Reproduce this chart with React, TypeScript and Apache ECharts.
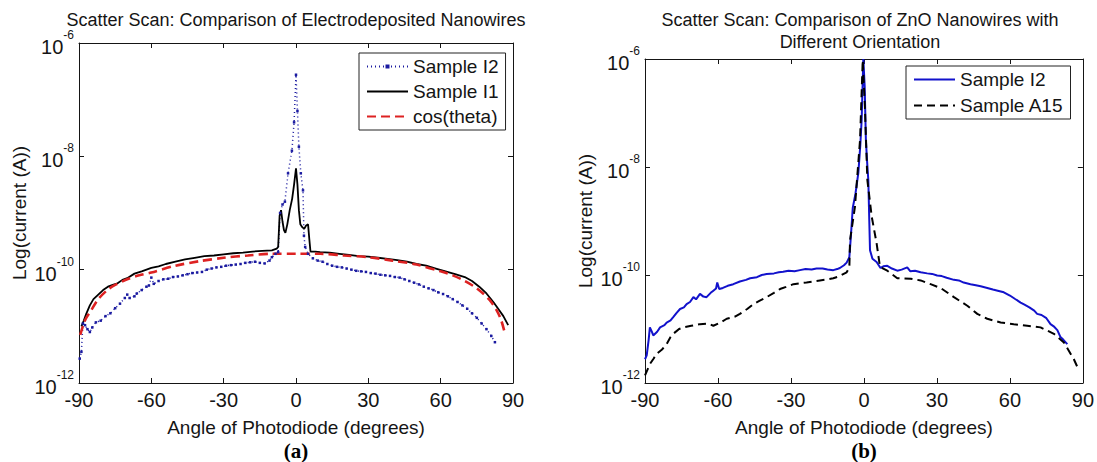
import React, { useEffect, useRef } from "react";
import * as echarts from "echarts";

const FONT = "'Liberation Sans', Arial, Helvetica, sans-serif";

// ---------- axis ticks ----------
const angleMin = -90;
const angleMax = 90;
const angleStep = 30;
const logMin = -12;
const logMax = -6;
const logStep = 2;

// ---------- titles / labels ----------
const titleA = "Scatter Scan: Comparison of Electrodeposited Nanowires";
const titleB1 = "Scatter Scan: Comparison of ZnO Nanowires with";
const titleB2 = "Different Orientation";
const xName = "Angle of Photodiode (degrees)";
const yName = "Log(current (A))";

// ---------- panel (a): Sample I2 (log10 current) ----------
const aI2Angles = [
  -89.7, -89, -88.4, -87.5, -86.5, -85.5, -84.5, -83, -81, -79, -77, -75, -73, -71, -70, -69, -67, -66,
  -64, -62, -61, -60, -59, -57, -55, -53, -51, -49, -47, -45, -43, -41, -39, -37, -35, -33, -31, -29,
  -27, -25, -23, -21, -19, -17, -15, -13, -11, -10, -8.5, -7.4, -6.6, -5.6, -4.6, -3.3, -1.7, -0.8, 0,
  0.6, 1.2, 2, 2.9, 3.3, 3.8, 5, 7, 9, 11, 13, 15, 17, 19, 21, 23, 25, 27, 29, 31, 33, 35, 37, 39, 41,
  43, 45, 47, 49, 51, 53, 55, 57, 59, 61, 63, 65, 67, 69, 71, 73, 75, 77, 79, 81, 82.5,
];
const aI2Log = [
  -11.57, -11.45, -10.95, -10.98, -11.05, -11.1, -11.02, -10.93, -10.9, -10.82, -10.77, -10.68, -10.6,
  -10.5, -10.44, -10.5, -10.47, -10.42, -10.36, -10.3, -10.28, -10.14, -10.25, -10.2, -10.17, -10.16,
  -10.13, -10.12, -10.1, -10.08, -10.06, -10.05, -10.04, -10.0, -9.98, -9.96, -9.95, -9.93, -9.92,
  -9.91, -9.9, -9.88, -9.87, -9.86, -9.88, -9.89, -9.84, -9.78, -9.72, -9.69, -9.0, -8.85, -8.8, -8.3,
  -7.9, -7.4, -6.56, -7.2, -7.83, -8.3, -8.6, -9.4, -9.6, -9.72, -9.8, -9.84, -9.86, -9.9, -9.93,
  -9.95, -9.96, -9.98, -10.0, -10.02, -10.03, -10.04, -10.06, -10.07, -10.09, -10.1, -10.11, -10.13,
  -10.14, -10.17, -10.2, -10.23, -10.26, -10.3, -10.33, -10.36, -10.4, -10.43, -10.47, -10.52, -10.57,
  -10.63, -10.69, -10.77, -10.85, -10.95, -11.05, -11.17, -11.28,
];

// ---------- panel (a): Sample I1 ----------
const aI1Angles = [
  -89, -88, -87, -85.5, -84, -82, -80, -78, -76, -74, -72, -70, -67, -64, -60, -57, -54, -50, -46, -42,
  -38, -34, -30, -26, -22, -18, -14, -10, -8, -7.4, -6.8, -6.2, -5.6, -5, -4.4, -3.6, -2.6, -1.6, -0.8,
  0, 0.6, 1.2, 1.8, 2.6, 3.4, 4.2, 5, 5.5, 6, 8, 10, 14, 18, 22, 26, 30, 34, 38, 42, 46, 50, 54, 58, 62,
  66, 70, 73, 76, 79, 82, 84, 86, 88,
];
const aI1Log = [
  -11.0, -10.9, -10.78, -10.63, -10.52, -10.44, -10.36, -10.3, -10.27, -10.24, -10.18, -10.15, -10.07,
  -10.03, -9.97, -9.94, -9.9, -9.86, -9.82, -9.79, -9.76, -9.75, -9.73, -9.71, -9.7, -9.68, -9.67,
  -9.66, -9.63, -9.6, -9.05, -8.95, -9.15, -9.3, -9.35, -9.2, -8.95, -8.75, -8.5, -8.21, -8.5, -8.95,
  -9.2, -9.25, -9.28, -9.22, -9.2, -9.45, -9.68, -9.68, -9.69, -9.7, -9.72, -9.74, -9.76, -9.77, -9.79,
  -9.81, -9.83, -9.86, -9.9, -9.93, -9.98, -10.03, -10.08, -10.13, -10.2, -10.3, -10.42, -10.58,
  -10.7, -10.82, -10.98,
];

// ---------- panel (a): cos(theta) ----------
const aCosAngles = [
  -89.5, -88, -87, -85, -82, -78, -75, -70, -65, -60, -50, -40, -30, -20, -10, 0, 10, 20, 30, 40, 50, 60,
  65, 70, 75, 80, 83, 85, 86.5,
];
const aCosLog = [
  -11.15, -10.95, -10.85, -10.72, -10.52, -10.35, -10.27, -10.17, -10.1, -10.05, -9.93, -9.85, -9.79,
  -9.75, -9.72, -9.72, -9.72, -9.75, -9.78, -9.84, -9.91, -10.03, -10.1, -10.2, -10.33, -10.52, -10.7,
  -10.88, -11.1,
];

// ---------- panel (b): Sample I2 ----------
const bI2Angles = [
  -90, -89.3, -88.5, -88, -87.2, -86.6, -85, -83.8, -82, -81.1, -79.5, -78.4, -77, -75.6, -74, -72.9,
  -71.5, -70.1, -69, -67.4, -66, -64.7, -63, -61.9, -60.8, -60.3, -59.5, -58, -56, -53.7, -51, -48.5,
  -46.8, -44, -42, -40, -37, -35, -33.2, -31, -28.5, -26.3, -24, -21.5, -19.5, -17, -15, -12.6, -11,
  -9.9, -8.2, -7.1, -6, -5.4, -4.6, -3.5, -2.3, -1.5, -0.94, -0.25, 0.3, 0.8, 1.3, 1.8, 2.2, 2.5, 3.5,
  5.2, 6.8, 8, 9.6, 11.5, 13.7, 15.5, 17.8, 19, 21, 23.3, 26, 28, 30.1, 32, 34, 37, 39, 41, 43.8, 46,
  48, 50.7, 53, 55, 57.5, 60, 62, 64.4, 66, 68, 70, 71.2, 73, 75, 76.7, 78, 79.5, 80.8, 82, 83.6,
];
const bI2Log = [
  -11.56, -11.49, -11.2, -10.97, -11.05, -11.12, -11.05, -10.97, -10.93, -10.88, -10.84, -10.78, -10.7,
  -10.63, -10.6, -10.54, -10.5, -10.41, -10.45, -10.35, -10.4, -10.41, -10.33, -10.29, -10.25, -10.14,
  -10.26, -10.24, -10.2, -10.17, -10.12, -10.09, -10.06, -10.04, -10.0, -9.98, -9.97, -9.95, -9.94,
  -9.92, -9.93, -9.91, -9.89, -9.9, -9.88, -9.88, -9.9, -9.91, -9.89, -9.87, -9.82, -9.77, -9.67, -9.3,
  -8.76, -8.5, -8.11, -7.6, -7.13, -6.0, -6.5, -7.5, -7.9, -8.24, -9.0, -9.54, -9.7, -9.76, -9.87,
  -9.84, -9.83, -9.88, -9.92, -9.9, -9.86, -9.93, -9.92, -9.95, -9.97, -9.98, -10.01, -10.02, -10.05,
  -10.09, -10.1, -10.14, -10.17, -10.19, -10.21, -10.24, -10.27, -10.29, -10.32, -10.38, -10.44,
  -10.51, -10.55, -10.6, -10.66, -10.72, -10.74, -10.8, -10.91, -10.95, -11.02, -11.15, -11.2, -11.28,
];

// ---------- panel (b): Sample A15 ----------
const bA15Angles = [
  -90, -88, -86.5, -85.2, -83, -81.1, -79.5, -78.4, -76, -74.2, -71, -67.4, -64, -61.9, -59, -56.4, -53,
  -51, -48, -45.5, -43, -40, -37, -34.5, -32, -29, -26, -23.6, -21, -18.1, -15, -12.6, -10, -7.1, -6,
  -5.7, -3.7, -1.6, -0.5, 0.4, 1.4, 3.2, 5.2, 6.6, 9.6, 13.7, 19.2, 23.3, 27.4, 31.5, 37, 42.5, 46.6,
  50.7, 56.2, 61.6, 67.1, 72.6, 78.1, 82.2, 86.3, 88.4,
];
const bA15Log = [
  -11.86, -11.65, -11.55, -11.46, -11.38, -11.28, -11.15, -11.09, -11.0, -10.97, -10.94, -10.91, -10.9,
  -10.94, -10.88, -10.81, -10.77, -10.72, -10.63, -10.54, -10.48, -10.41, -10.33, -10.26, -10.22,
  -10.17, -10.15, -10.14, -10.12, -10.1, -10.08, -10.06, -10.02, -9.95, -9.86, -9.35, -8.74, -7.5,
  -6.02, -6.89, -8.24, -8.92, -9.41, -9.85, -9.92, -10.06, -10.07, -10.1, -10.17, -10.24, -10.41,
  -10.57, -10.72, -10.81, -10.88, -10.91, -10.94, -10.97, -11.09, -11.25, -11.56, -11.77,
];

const zip = (xs: number[], ys: number[]) => xs.map((x, i) => [x, ys[i]]);

const TXT = "#151515";
const BLUE_A = "#1a1aa0";
const BLUE_B = "#1212cc";
const RED = "#dd2222";

function xAxes(gridIndex: number) {
  const base = {
    gridIndex,
    type: "value" as const,
    min: angleMin,
    max: angleMax,
    interval: angleStep,
    splitLine: { show: false },
    axisLine: { show: true, onZero: false, lineStyle: { color: TXT, width: 1 } },
    axisTick: { show: true, inside: true, length: 5, lineStyle: { color: TXT } },
  };
  return [
    {
      ...base,
      position: "bottom",
      axisLabel: { show: true, fontSize: 20, fontFamily: FONT, color: TXT, margin: 7, showMinLabel: true, showMaxLabel: true },
      name: xName,
      nameLocation: "middle",
      nameGap: 35,
      nameTextStyle: { fontSize: 19, fontFamily: FONT, color: TXT },
    },
    { ...base, position: "top", axisLabel: { show: false } },
  ];
}

function yAxes(gridIndex: number) {
  const base = {
    gridIndex,
    type: "value" as const,
    min: logMin,
    max: logMax,
    interval: logStep,
    splitLine: { show: false },
    axisLine: { show: true, onZero: false, lineStyle: { color: TXT, width: 1 } },
    axisTick: { show: true, inside: true, length: 5, lineStyle: { color: TXT } },
  };
  return [
    {
      ...base,
      position: "left",
      axisLabel: {
        show: true,
        margin: 5,
        formatter: (v: number) => `{b|10}{s|${v}}`,
        rich: {
          b: { fontSize: 20, fontFamily: FONT, color: TXT, lineHeight: 28, verticalAlign: "bottom" },
          s: { fontSize: 12, fontFamily: FONT, color: TXT, lineHeight: 12, verticalAlign: "top" },
        },
      },
      name: yName,
      nameLocation: "middle",
      nameGap: 50,
      nameTextStyle: { fontSize: 19, fontFamily: FONT, color: TXT },
    },
    { ...base, position: "right", axisLabel: { show: false } },
  ];
}

export default function App() {
  const ref = useRef<HTMLDivElement>(null);
  useEffect(() => {
    if (!ref.current) return;
    const chart = echarts.init(ref.current, undefined, { renderer: "svg" });
    const legendBase = {
      orient: "vertical" as const,
      selectedMode: false,
      backgroundColor: "#ffffff",
      borderColor: "#222",
      borderWidth: 1,
      borderRadius: 0,
      padding: [3, 7, 3, 7],
      itemWidth: 41,
      itemHeight: 5,
      itemGap: 4,
      align: "left" as const,
      textStyle: { fontSize: 19, fontFamily: FONT, color: TXT, lineHeight: 21 },
    };
    const hidden = { itemStyle: { opacity: 0 } };
    chart.setOption({
      animation: false,
      backgroundColor: "#ffffff",
      grid: [
        { left: 79, top: 43, width: 434, height: 340, containLabel: false },
        { left: 645, top: 59, width: 438, height: 324, containLabel: false },
      ],
      xAxis: [...xAxes(0), ...xAxes(1)],
      yAxis: [...yAxes(0), ...yAxes(1)],
      legend: [
        {
          ...legendBase,
          left: 359,
          top: 53,
          data: [
            { name: "Sample I2" },
            { name: "Sample I1", ...hidden },
            { name: "cos(theta)", ...hidden },
          ],
        },
        {
          ...legendBase,
          left: 906,
          top: 66,
          itemGap: 5,
          data: [
            { name: "Sample I2 ", ...hidden },
            { name: "Sample A15", ...hidden },
          ],
          formatter: (n: string) => n.trim(),
        },
      ],
      graphic: [
        {
          type: "text",
          x: 296,
          y: 20,
          style: { text: titleA, fontSize: 18, fontFamily: FONT, fill: TXT, textAlign: "center", textVerticalAlign: "middle" },
        },
        {
          type: "text",
          x: 860,
          y: 20,
          style: { text: titleB1, fontSize: 18, fontFamily: FONT, fill: TXT, textAlign: "center", textVerticalAlign: "middle" },
        },
        {
          type: "text",
          x: 860,
          y: 42,
          style: { text: titleB2, fontSize: 18, fontFamily: FONT, fill: TXT, textAlign: "center", textVerticalAlign: "middle" },
        },
        {
          type: "text",
          x: 296,
          y: 451,
          style: { text: "(a)", fontSize: 21, fontWeight: "bold", fontFamily: "'Liberation Serif', 'Times New Roman', serif", fill: "#000", textAlign: "center", textVerticalAlign: "middle" },
        },
        {
          type: "text",
          x: 864,
          y: 451,
          style: { text: "(b)", fontSize: 21, fontWeight: "bold", fontFamily: "'Liberation Serif', 'Times New Roman', serif", fill: "#000", textAlign: "center", textVerticalAlign: "middle" },
        },
      ],
      series: [
        {
          name: "Sample I2",
          type: "line",
          xAxisIndex: 0,
          yAxisIndex: 0,
          data: zip(aI2Angles, aI2Log),
          symbol: "rect",
          symbolSize: 2.5,
          showSymbol: true,
          itemStyle: { color: BLUE_A },
          lineStyle: { color: BLUE_A, width: 1.5, type: [1, 3] },
        },
        {
          name: "Sample I1",
          type: "line",
          xAxisIndex: 0,
          yAxisIndex: 0,
          data: zip(aI1Angles, aI1Log),
          symbol: "none",
          itemStyle: { color: "#000000" },
          lineStyle: { color: "#000000", width: 1.8 },
        },
        {
          name: "cos(theta)",
          type: "line",
          xAxisIndex: 0,
          yAxisIndex: 0,
          data: zip(aCosAngles, aCosLog),
          symbol: "none",
          smooth: 0.3,
          itemStyle: { color: RED },
          lineStyle: { color: RED, width: 2.6, type: [9, 5] },
        },
        {
          name: "Sample I2 ",
          type: "line",
          xAxisIndex: 2,
          yAxisIndex: 2,
          data: zip(bI2Angles, bI2Log),
          symbol: "none",
          itemStyle: { color: BLUE_B },
          lineStyle: { color: BLUE_B, width: 2 },
        },
        {
          name: "Sample A15",
          type: "line",
          xAxisIndex: 2,
          yAxisIndex: 2,
          data: zip(bA15Angles, bA15Log),
          symbol: "none",
          itemStyle: { color: "#000000" },
          lineStyle: { color: "#000000", width: 2, type: [8, 5] },
        },
      ],
    });
    return () => chart.dispose();
  }, []);
  return (
    <div
      ref={ref}
      style={{ position: "fixed", left: 0, top: 0, width: 1097, height: 462, background: "#ffffff" }}
    />
  );
}
